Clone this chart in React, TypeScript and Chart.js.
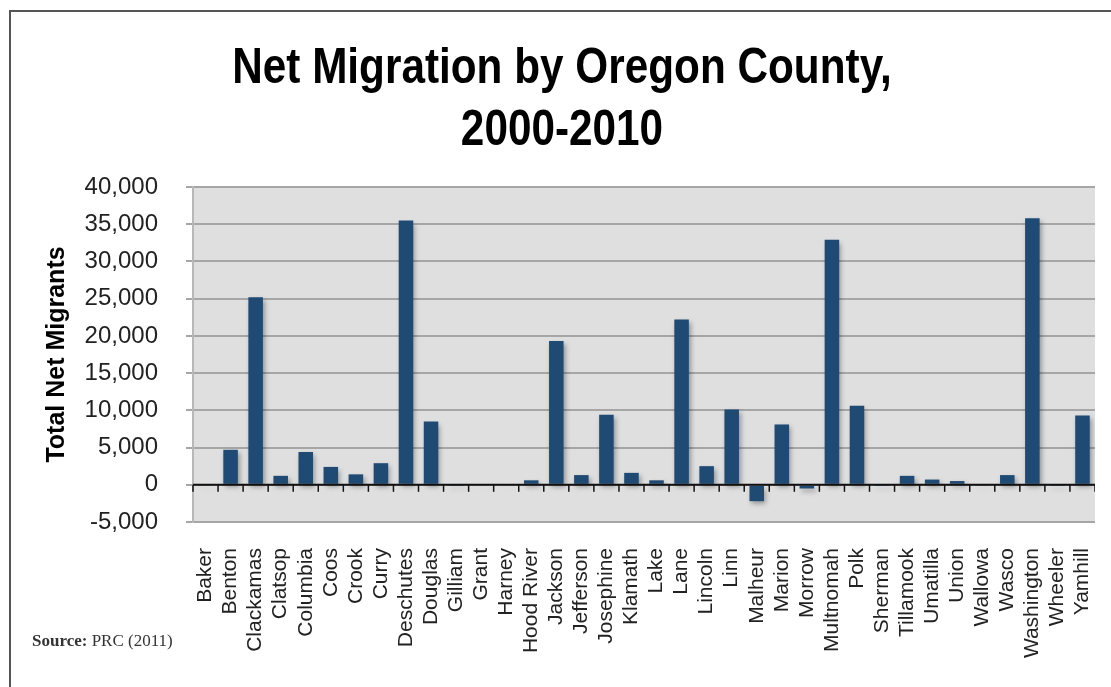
import React, { useEffect, useRef } from "react";
import { Chart, registerables } from "chart.js";

Chart.register(...registerables);

const counties = [
  "Baker", "Benton", "Clackamas", "Clatsop", "Columbia", "Coos", "Crook", "Curry",
  "Deschutes", "Douglas", "Gilliam", "Grant", "Harney", "Hood River", "Jackson",
  "Jefferson", "Josephine", "Klamath", "Lake", "Lane", "Lincoln", "Linn", "Malheur",
  "Marion", "Morrow", "Multnomah", "Polk", "Sherman", "Tillamook", "Umatilla",
  "Union", "Wallowa", "Wasco", "Washington", "Wheeler", "Yamhill",
];

const netMigrants = [
  -100, 4700, 25200, 1200, 4400, 2400, 1400, 2900,
  35500, 8500, -50, -150, -150, 600, 19300,
  1300, 9400, 1600, 600, 22200, 2500, 10100, -2200,
  8100, -500, 32900, 10600, -50, 1200, 700,
  500, -100, 1300, 35800, -50, 9300,
];

const titleLines = ["Net Migration by Oregon County,", "2000-2010"];
const yAxisTitle = "Total Net Migrants";
const yMin = -5000;
const yMax = 40000;
const yStep = 5000;

const plotBgPlugin = {
  id: "plotBg",
  beforeDraw(chart: any) {
    const { ctx, chartArea } = chart;
    ctx.save();
    ctx.fillStyle = "#dfdfdf";
    ctx.fillRect(chartArea.left, chartArea.top, chartArea.right - chartArea.left, chartArea.bottom - chartArea.top);
    ctx.restore();
  },
};

const shadowPlugin = {
  id: "barShadow",
  beforeDatasetsDraw(chart: any) {
    const ctx = chart.ctx;
    ctx.save();
    ctx.shadowColor = "rgba(0,0,0,0.35)";
    ctx.shadowBlur = 5;
    ctx.shadowOffsetX = 2;
    ctx.shadowOffsetY = 3;
  },
  afterDatasetsDraw(chart: any) {
    chart.ctx.restore();
  },
};

const zeroAxisPlugin = {
  id: "zeroAxis",
  afterDatasetsDraw(chart: any) {
    const { ctx, chartArea, scales } = chart;
    const y0 = scales.y.getPixelForValue(0);
    const xs = scales.x;
    const n = counties.length;
    ctx.save();
    ctx.strokeStyle = "#111";
    ctx.lineWidth = 2;
    ctx.beginPath();
    ctx.moveTo(chartArea.left, y0);
    ctx.lineTo(chartArea.right, y0);
    ctx.stroke();
    ctx.lineWidth = 1.5;
    for (let i = 0; i <= n; i++) {
      let x: number;
      if (i === 0) x = chartArea.left;
      else if (i === n) x = chartArea.right;
      else x = (xs.getPixelForValue(i - 1) + xs.getPixelForValue(i)) / 2;
      ctx.beginPath();
      ctx.moveTo(x, y0);
      ctx.lineTo(x, y0 + 7);
      ctx.stroke();
    }
    ctx.restore();
  },
};

export default function App() {
  const canvasRef = useRef<HTMLCanvasElement | null>(null);

  useEffect(() => {
    const canvas = canvasRef.current;
    if (!canvas) return;
    const chart = new Chart(canvas, {
      type: "bar",
      data: {
        labels: counties,
        datasets: [
          {
            data: netMigrants,
            backgroundColor: "#1f4a73",
            borderWidth: 0,
            barPercentage: 0.58,
            categoryPercentage: 1,
          },
        ],
      },
      options: {
        responsive: false,
        animation: false,
        layout: { padding: { left: 0, right: 0, top: 187, bottom: 0 } },
        plugins: {
          legend: { display: false },
          tooltip: { enabled: false },
          title: { display: false },
        },
        scales: {
          x: {
            grid: { display: false, drawTicks: false },
            border: { display: false },
            ticks: {
              autoSkip: false,
              minRotation: 90,
              maxRotation: 90,
              padding: 26,
              color: "#222",
              font: { family: "'Liberation Sans', Arial, sans-serif", size: 21 },
            },
            afterFit(scale: any) {
              scale.height = 165;
              scale.paddingLeft = 0;
              scale.paddingRight = 0;
            },
          },
          y: {
            min: yMin,
            max: yMax,
            ticks: {
              stepSize: yStep,
              padding: 28,
              color: "#222",
              font: { family: "'Liberation Sans', Arial, sans-serif", size: 24 },
              callback: (v: any) => Number(v).toLocaleString("en-US"),
            },
            grid: { color: "#a6a6a6", lineWidth: 2, tickLength: 7, tickColor: "#a6a6a6" },
            border: { display: true, color: "#b8b8b8", width: 2 },
            title: {
              display: true,
              text: yAxisTitle,
              color: "#000",
              font: { family: "'Liberation Sans', Arial, sans-serif", size: 25, weight: "bold", lineHeight: 1.2 },
              padding: { top: 13, bottom: 0 },
            },
            afterFit(scale: any) {
              scale.width = 164;
            },
          },
        },
      },
      plugins: [plotBgPlugin, shadowPlugin, zeroAxisPlugin],
    });
    return () => chart.destroy();
  }, []);

  return (
    <div>
      <div
        style={{
          position: "fixed",
          left: 9,
          top: 10,
          width: 1300,
          height: 900,
          border: "2px solid #555",
          boxSizing: "border-box",
        }}
      />
      <div
        style={{
          position: "fixed",
          left: 0,
          top: 35,
          width: 1124,
          textAlign: "center",
          fontFamily: "'Liberation Sans', Arial, sans-serif",
          fontWeight: "bold",
          fontSize: 50,
          lineHeight: "62px",
          color: "#000",
          transform: "scaleX(0.846)",
          transformOrigin: "center top",
          whiteSpace: "nowrap",
        }}
      >
        {titleLines.map((t) => (
          <div key={t}>{t}</div>
        ))}
      </div>
      <canvas
        ref={canvasRef}
        width={1066}
        height={687}
        style={{ position: "fixed", left: 29, top: 0, width: 1066, height: 687 }}
      />
      <div
        style={{
          position: "fixed",
          left: 32,
          top: 631,
          fontFamily: "'Liberation Serif', 'Times New Roman', serif",
          fontSize: 17,
          color: "#333",
          whiteSpace: "nowrap",
        }}
      >
        <b>Source:</b> PRC (2011)
      </div>
    </div>
  );
}
